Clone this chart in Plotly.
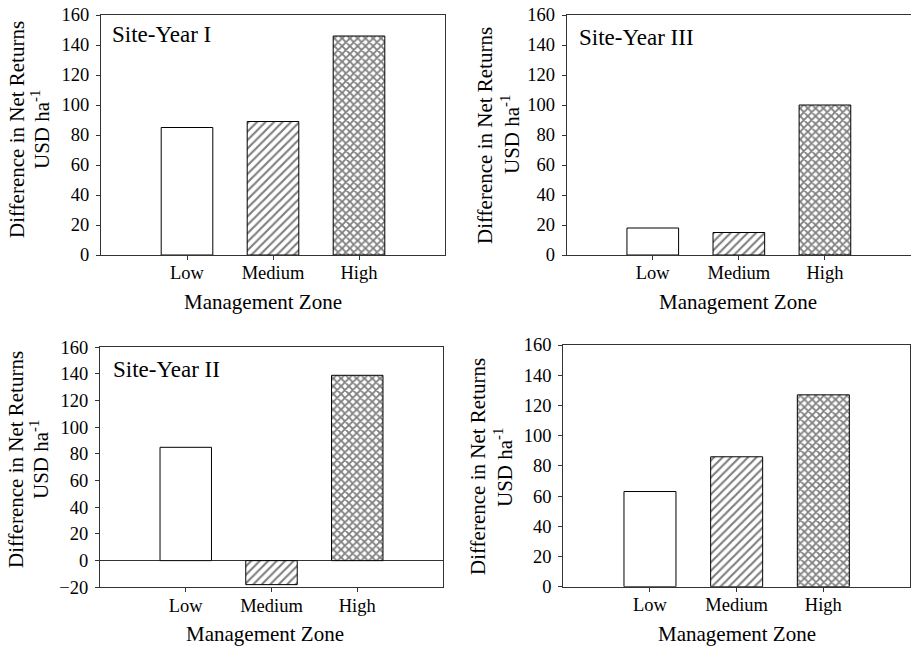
import plotly.graph_objects as go

categories = ["Low", "Medium", "High"]
cat_pos = [1, 2, 3]
site_year_1 = [85, 89, 146]
site_year_2 = [85, -18, 139]
site_year_3 = [18, 15, 100]
site_year_4 = [63, 86, 127]
panel_labels = ["Site-Year I", "Site-Year III", "Site-Year II", ""]
y_ticks_top = [0, 20, 40, 60, 80, 100, 120, 140, 160]
y_ticks_neg = [-20, 0, 20, 40, 60, 80, 100, 120, 140, 160]

W, H = 911, 647
FONT = "Liberation Serif"
LINE_COL = "#333333"

def px_x(p):
    return p / W

def px_y(p):
    return 1 - p / H

# panel pixel boxes: (left, right, top, bottom)
panels = [
    dict(box=(101, 445, 15, 255), vals=site_year_1, yr=[0, 160], ticks=y_ticks_top, label=panel_labels[0],
         ytitle=(17, 41, 130), xtitle=(263, 302), lab=(110, 35)),
    dict(box=(566.7, 911.5, 15, 255), vals=site_year_3, yr=[0, 160], ticks=y_ticks_top, label=panel_labels[1],
         ytitle=(485, 510, 135), xtitle=(738, 302), lab=(577, 37)),
    dict(box=(100, 443, 347.3, 587.3), vals=site_year_2, yr=[-20, 160], ticks=y_ticks_neg, label=panel_labels[2],
         ytitle=(16, 39, 460), xtitle=(265, 634), lab=(111, 369)),
    dict(box=(563.3, 910, 345, 586.7), vals=site_year_4, yr=[0, 160], ticks=y_ticks_top, label=panel_labels[3],
         ytitle=(478, 503, 467), xtitle=(737, 634), lab=(0, 0)),
]

patterns = ["", "/", "x"]
solidities = [0.3, 0.36, 0.55]
psizes = [6, 6, 5.5]

fig = go.Figure()
annotations = []
for i, p in enumerate(panels):
    n = "" if i == 0 else str(i + 1)
    xa, ya = "x" + n, "y" + n
    fig.add_trace(go.Bar(
        x=cat_pos, y=p["vals"], xaxis=xa, yaxis=ya, width=0.6,
        marker=dict(color="white", line=dict(color="black", width=1),
                    pattern=dict(shape=patterns, size=psizes, solidity=solidities, fgcolor="black", bgcolor="white")),
        showlegend=False, hoverinfo="skip",
    ))
    l, r, t, b = p["box"]
    fig.layout["xaxis" + n] = dict(
        domain=[px_x(l), min(px_x(r), 1.0)], range=[0, 4], anchor=ya, automargin=False,
        tickvals=cat_pos, ticktext=categories, ticks="outside", ticklen=4, tickcolor=LINE_COL,
        showline=True, linecolor=LINE_COL, linewidth=1, mirror=True,
        showgrid=False, zeroline=False, fixedrange=True, ticklabelstandoff=-3,
        ticklabeloverflow="allow",
        tickfont=dict(family=FONT, size=18.5, color="black"),
    )
    fig.layout["yaxis" + n] = dict(
        domain=[px_y(b), px_y(t)], range=p["yr"], anchor=xa, automargin=False,
        tickvals=p["ticks"], ticks="outside", ticklen=4, tickcolor=LINE_COL,
        showline=True, linecolor=LINE_COL, linewidth=1, mirror=True,
        showgrid=False, zeroline=(p["yr"][0] < 0), zerolinecolor=LINE_COL, zerolinewidth=1,
        fixedrange=True, ticklabelstandoff=3, ticklabeloverflow="allow",
        tickfont=dict(family=FONT, size=18.5, color="black"),
    )
    x1, x2, yc = p["ytitle"]
    annotations.append(dict(text="Difference in Net Returns", x=px_x(x1), y=px_y(yc), xref="paper", yref="paper",
                            textangle=-90, showarrow=False, xanchor="center", yanchor="middle",
                            font=dict(family=FONT, size=21, color="black")))
    annotations.append(dict(text="USD ha<sup>-1</sup>", x=px_x(x2), y=px_y(yc), xref="paper", yref="paper",
                            textangle=-90, showarrow=False, xanchor="center", yanchor="middle",
                            font=dict(family=FONT, size=21, color="black")))
    xt, yt = p["xtitle"]
    annotations.append(dict(text="Management Zone", x=px_x(xt), y=px_y(yt), xref="paper", yref="paper",
                            showarrow=False, xanchor="center", yanchor="middle",
                            font=dict(family=FONT, size=21, color="black")))
    if p["label"]:
        lx, ly = p["lab"]
        annotations.append(dict(text=p["label"], x=px_x(lx), y=px_y(ly), xref="paper", yref="paper",
                                showarrow=False, xanchor="left", yanchor="middle",
                                font=dict(family=FONT, size=23, color="black")))

fig.update_layout(
    width=W, height=H, margin=dict(l=0, r=0, t=0, b=0),
    paper_bgcolor="white", plot_bgcolor="white",
    annotations=annotations, bargap=0.4,
)
fig.write_html(
    "out.html",
    config={"displayModeBar": False, "staticPlot": True},
    post_script="document.body.style.margin='0px';document.body.style.overflow='hidden';",
)
